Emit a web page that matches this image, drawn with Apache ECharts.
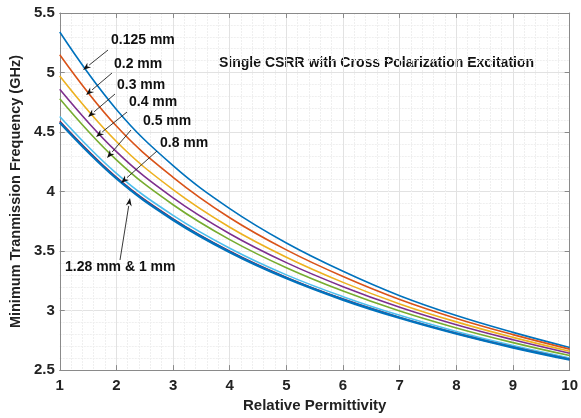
<!DOCTYPE html>
<html><head><meta charset="utf-8">
<script src="https://cdn.jsdelivr.net/npm/echarts@6/dist/echarts.min.js"></script>
<style>html,body{margin:0;padding:0;background:#fff}#c{width:581px;height:418px}</style>
</head><body><div id="c"></div>
<script>
const xVals = [1, 2, 3, 4, 5, 6, 7, 8, 9, 10];
const seriesNames = ['0.125 mm','0.2 mm','0.3 mm','0.4 mm','0.5 mm','0.8 mm','1 mm','1.28 mm'];
const s0125 = [5.34, 4.69, 4.218, 3.857, 3.568, 3.33, 3.125, 2.958, 2.817, 2.69];
const s02   = [5.15, 4.55, 4.12, 3.78, 3.51, 3.286, 3.093, 2.934, 2.798, 2.676];
const s03   = [4.97, 4.42, 4.016, 3.70, 3.448, 3.237, 3.056, 2.905, 2.775, 2.658];
const s04   = [4.86, 4.335, 3.947, 3.646, 3.403, 3.201, 3.028, 2.881, 2.755, 2.642];
const s05   = [4.78, 4.266, 3.889, 3.596, 3.36, 3.164, 2.996, 2.854, 2.731, 2.622];
const s08   = [4.63, 4.152, 3.80, 3.524, 3.30, 3.117, 2.96, 2.825, 2.706, 2.602];
const s1    = [4.59, 4.119, 3.770, 3.498, 3.278, 3.096, 2.942, 2.809, 2.692, 2.59];
const s128  = [4.58, 4.11, 3.762, 3.491, 3.272, 3.091, 2.938, 2.806, 2.69, 2.588];
const allSeries = [s0125, s02, s03, s04, s05, s08, s1, s128];
const colors = ['#0072BD','#D95319','#EDB120','#7E2F8E','#77AC30','#4DBEEE','#A2142F','#0072BD'];
const widths = [1.6,1.6,1.6,1.6,1.6,1.6,1.8,2.4];
const xTicks = [1,2,3,4,5,6,7,8,9,10];
const yTicks = [2.5,3,3.5,4,4.5,5,5.5];

const title = 'Single CSRR with Cross Polarization Excitation';
const labelTexts = ['0.125 mm','0.2 mm','0.3 mm','0.4 mm','0.5 mm','0.8 mm','1.28 mm & 1 mm'];
const labelPos = [[111,41],[114,65],[117,86],[129,103],[143,122],[160,144],[65,268]];
const arrows = [[108,50,83,70],[112,73,86,95],[115,94,88,117],[127,112,96,137],[131,130,107,158],[157,151,121,183],[120,260,130,198]];

const FONT = 'Liberation Sans, Arial, sans-serif';
const chart = echarts.init(document.getElementById('c'), null, {renderer:'canvas'});

const graphics = [];
graphics.push({type:'text', left:219, top:56, style:{text:title, font:'bold 14px '+FONT, fill:'#111'}});
labelTexts.forEach((t,i)=>{
  graphics.push({type:'text', left:labelPos[i][0], top:labelPos[i][1]-8, style:{text:t, font:'bold 14px '+FONT, fill:'#111'}, z:12});
});
arrows.forEach(a=>{
  const [x1,y1,x2,y2]=a;
  const dx=x2-x1, dy=y2-y1, L=Math.hypot(dx,dy), ux=dx/L, uy=dy/L;
  const hl=8, hw=3;
  const bx=x2-ux*hl, by=y2-uy*hl;
  graphics.push({type:'line', shape:{x1:x1,y1:y1,x2:bx,y2:by}, style:{stroke:'#222', lineWidth:0.9}, z:10});
  graphics.push({type:'polygon', shape:{points:[[x2,y2],[bx-uy*hw,by+ux*hw],[x2-ux*hl*0.7,y2-uy*hl*0.7],[bx+uy*hw,by-ux*hw]]}, style:{fill:'#111'}, z:10});
});

const axisLineStyle = {color:'#8a8a8a', width:1};
chart.setOption({
  animation:false,
  backgroundColor:'#fff',
  grid:{left:54, right:6, top:13, bottom:46, containLabel:false},
  xAxis:[{
    type:'value', min:1, max:10, interval:1, position:'bottom',
    axisLine:{show:true, onZero:false, lineStyle:axisLineStyle},
    axisTick:{show:true, inside:true, length:5, lineStyle:axisLineStyle},
    axisLabel:{show:true, margin:8, fontSize:15, fontWeight:'bold', fontFamily:FONT, color:'#222',
      formatter:v=> xTicks.includes(v)? String(v):''},
    splitLine:{show:true, lineStyle:{color:'#e2e2e2', width:1}},
    minorTick:{show:false, splitNumber:5},
    minorSplitLine:{show:true, lineStyle:{color:'#efefef', width:1, type:[2,1]}},
    name:'Relative Permittivity', nameLocation:'middle', nameGap:26,
    nameTextStyle:{fontSize:15, fontWeight:'bold', fontFamily:FONT, color:'#222'}
  },{
    type:'value', min:1, max:10, interval:1, position:'top',
    axisLine:{show:true, onZero:false, lineStyle:axisLineStyle},
    axisTick:{show:true, inside:true, length:5, lineStyle:axisLineStyle},
    axisLabel:{show:false}, splitLine:{show:false}
  }],
  yAxis:[{
    type:'value', min:2.5, max:5.5, interval:0.5, position:'left',
    axisLine:{show:true, onZero:false, lineStyle:axisLineStyle},
    axisTick:{show:true, inside:true, length:5, lineStyle:axisLineStyle},
    axisLabel:{show:true, margin:5, fontSize:15, fontWeight:'bold', fontFamily:FONT, color:'#222',
      formatter:v=> yTicks.includes(v)? String(v):''},
    splitLine:{show:true, lineStyle:{color:'#e2e2e2', width:1}},
    minorTick:{show:false, splitNumber:5},
    minorSplitLine:{show:true, lineStyle:{color:'#efefef', width:1, type:[2,1]}},
    name:'Minimum Tranmission Frequency (GHz)', nameLocation:'middle', nameGap:29,
    nameTextStyle:{fontSize:14.5, fontWeight:'bold', fontFamily:FONT, color:'#222'}
  },{
    type:'value', min:2.5, max:5.5, interval:0.5, position:'right',
    axisLine:{show:true, onZero:false, lineStyle:axisLineStyle},
    axisTick:{show:true, inside:true, length:5, lineStyle:axisLineStyle},
    axisLabel:{show:false}, splitLine:{show:false}
  }],
  series: allSeries.map((vals,i)=>({
    name:seriesNames[i], type:'line', xAxisIndex:0, yAxisIndex:0,
    data: xVals.map((x,j)=>[x, vals[j]]),
    smooth:0.4, showSymbol:false, symbol:'none',
    lineStyle:{color:colors[i], width:widths[i]}, itemStyle:{color:colors[i]},
    z:2+i
  })),
  graphic: graphics
});
</script></body></html>
